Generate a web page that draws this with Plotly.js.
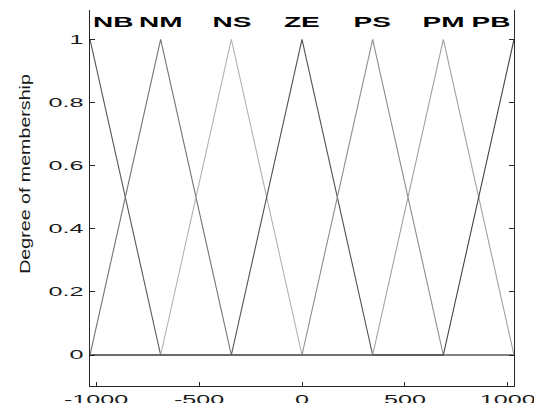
<!DOCTYPE html>
<html>
<head>
<meta charset="utf-8">
<script src="https://cdn.plot.ly/plotly-3.0.1.min.js"></script>
<style>
  html, body { margin: 0; padding: 0; background: #fff; }
  #chart { width: 534px; height: 403px; }
  /* the reference's horizontal texts are drawn very wide, its vertical title narrow */
  g.ytick { transform-box: fill-box; transform-origin: 100% 50%; transform: scaleX(2.1); }
  g.xtick { transform-box: fill-box; transform-origin: 50% 0%; transform: scaleX(2.1); }
  g.annotation-text-g { transform-box: fill-box; transform-origin: 50% 50%; transform: scaleX(2.0); }
  g.g-ytitle { transform-box: fill-box; transform-origin: 50% 50%; transform: translateY(-24px) scaleY(1.31); }
</style>
</head>
<body>
<div id="chart"></div>
<script>
// ---- data ----
const mfNames = ['NB', 'NM', 'NS', 'ZE', 'PS', 'PM', 'PB'];
const mfPeaks = [-1030, -686.7, -343.3, 0, 343.3, 686.7, 1030];
const mfHalfWidth = 343.3;
const universe = [-1030, 1030];
const mfColors = ['#585858', '#747474', '#b2b2b2', '#515151', '#8e8e8e', '#a1a1a1', '#424242'];
const xTickVals = [-1000, -500, 0, 500, 1000];
const xTickText = ['-1000', '-500', '0', '500', '1000'];
const yTickVals = [0, 0.2, 0.4, 0.6, 0.8, 1];
const yTickText = ['0', '0.2', '0.4', '0.6', '0.8', '1'];

function trimf(x, peak, w) { return Math.max(0, 1 - Math.abs(x - peak) / w); }

const traces = [];
const annotations = [];
mfNames.forEach(function (name, i) {
  const p = mfPeaks[i];
  let xs = [universe[0], p - mfHalfWidth, p, p + mfHalfWidth, universe[1]]
    .filter(function (v) { return v >= universe[0] && v <= universe[1]; })
    .sort(function (a, b) { return a - b; });
  xs = xs.filter(function (v, k) { return k === 0 || v !== xs[k - 1]; });
  const ys = xs.map(function (v) { return trimf(v, p, mfHalfWidth); });
  traces.push({
    type: 'scatter', mode: 'lines', x: xs, y: ys, name: name,
    line: { color: mfColors[i], width: 1.1 }, hoverinfo: 'skip'
  });
  // label at the centroid of the (clipped) membership function
  let num = 0, den = 0;
  const n = 2000;
  for (let k = 0; k <= n; k++) {
    const xv = universe[0] + (universe[1] - universe[0]) * k / n;
    const m = trimf(xv, p, mfHalfWidth);
    num += xv * m; den += m;
  }
  annotations.push({
    x: num / den, y: 1.054, xref: 'x', yref: 'y', text: name, showarrow: false,
    xanchor: 'center', yanchor: 'middle',
    font: { family: 'Liberation Sans, Arial, sans-serif', size: 14, color: '#000', weight: 'bold' }
  });
});

const axisFont = { family: 'Liberation Sans, Arial, sans-serif', size: 12, color: '#1a1a1a' };

const layout = {
  width: 534, height: 403,
  margin: { l: 90, r: 20, t: 10, b: 17, pad: 0 },
  paper_bgcolor: '#fff', plot_bgcolor: '#fff',
  showlegend: false,
  xaxis: {
    range: universe, tickmode: 'array', tickvals: xTickVals, ticktext: xTickText,
    ticks: 'inside', ticklen: 4, tickwidth: 1, tickcolor: '#262626',
    showline: true, linecolor: '#262626', linewidth: 1, mirror: false,
    showgrid: false, zeroline: false, tickfont: axisFont,
    ticklabelstandoff: 3, ticklabeloverflow: 'allow'
  },
  yaxis: {
    range: [-0.0982, 1.0932], tickmode: 'array', tickvals: yTickVals, ticktext: yTickText,
    ticks: 'inside', ticklen: 5, tickwidth: 1, tickcolor: '#262626',
    showline: true, linecolor: '#262626', linewidth: 1, mirror: 'ticks',
    showgrid: false, zeroline: false, tickfont: axisFont,
    ticklabelstandoff: 3, ticklabeloverflow: 'allow',
    title: { text: 'Degree of membership', standoff: 14,
      font: { family: 'Liberation Sans, Arial, sans-serif', size: 15, color: '#1a1a1a' } }
  },
  annotations: annotations
};

Plotly.newPlot('chart', traces, layout, { staticPlot: true, displayModeBar: false });
</script>
</body>
</html>
